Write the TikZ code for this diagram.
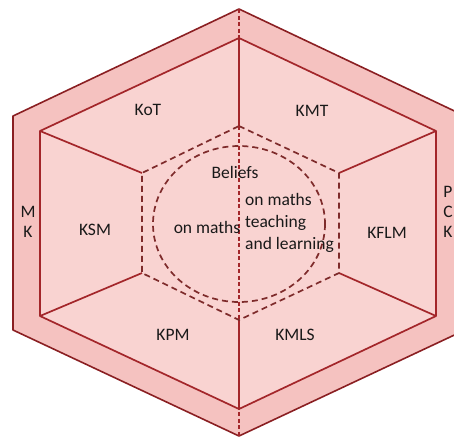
\documentclass[tikz,border=0pt]{standalone}
\usepackage{fontspec}
\setmainfont{Carlito}
\usetikzlibrary{calc}
\definecolor{ringpink}{HTML}{F5C2C0}
\definecolor{facepink}{HTML}{F9D3D1}
\definecolor{edgered}{HTML}{A3262A}
\definecolor{rimred}{HTML}{8A1F22}
\definecolor{dashbrown}{HTML}{7E2B2B}
\begin{document}
\begin{tikzpicture}[x=1pt, y=-1pt,
  edge/.style={draw=edgered, line width=1.7pt, line join=round},
  rim/.style={draw=rimred, line width=1.6pt, line join=round},
  dashedge/.style={draw=dashbrown, line width=1.7pt, dash pattern=on 6pt off 4pt},
  axis/.style={draw=edgered, line width=1.3pt, dash pattern=on 4pt off 2.5pt},
  lab/.style={font=\fontsize{17.5}{20}\selectfont, text=black!90, inner sep=0pt, align=center}]
\useasboundingbox (0,0) rectangle (454,437);
\clip (0,0) rectangle (454,437);
% outer hexagon
\coordinate (OT) at (239,9);
\coordinate (OUR) at (465,116);
\coordinate (OLR) at (465,330);
\coordinate (OB) at (239,436);
\coordinate (OLL) at (13,330);
\coordinate (OUL) at (13,116);
\fill[ringpink] (OT) -- (OUR) -- (OLR) -- (OB) -- (OLL) -- (OUL) -- cycle;
\draw[rim] (OT) -- (OUR) -- (OLR) -- (OB) -- (OLL) -- (OUL) -- cycle;
% inner hexagon
\coordinate (IT) at (239,38);
\coordinate (IUR) at (436,131);
\coordinate (ILR) at (436,316);
\coordinate (IB) at (239,409);
\coordinate (ILL) at (40,316);
\coordinate (IUL) at (40,131);
\fill[facepink] (IT) -- (IUR) -- (ILR) -- (IB) -- (ILL) -- (IUL) -- cycle;
\draw[edge] (IT) -- (IUR) -- (ILR) -- (IB) -- (ILL) -- (IUL) -- cycle;
% beliefs hexagon
\coordinate (BT) at (239,126);
\coordinate (BUR) at (339,173);
\coordinate (BLR) at (339,273);
\coordinate (BB) at (239,320);
\coordinate (BLL) at (142,273);
\coordinate (BUL) at (142,173);
\draw[edge] (IUL) -- (BUL);
\draw[edge] (ILL) -- (BLL);
\draw[edge] (IUR) -- (BUR);
\draw[edge] (ILR) -- (BLR);
\draw[edge] (IT) -- (BT);
\draw[edge] (IB) -- (BB);
\draw[dashedge] (BT) -- (BUR) -- (BLR) -- (BB) -- (BLL) -- (BUL) -- cycle;
\draw[dashedge] (239,224) ellipse[x radius=86, y radius=78];
\draw[axis] (OT) -- (OB);
% labels
\node[lab] (kot) at (148,110) {KoT};
\node[lab] (kmt) at (312,111) {KMT};
\node[lab] (ksm) at (95,230) {KSM};
\node[lab] (kflm) at (387,233) {KFLM};
\node[lab] (kpm) at (173,335) {KPM};
\node[lab] (kmls) at (295,335) {KMLS};
\node[lab] (mk) at (28,222) {M\\K};
\node[lab] (pck) at (448,212) {P\\C\\K};
\node[lab] (beliefs) at (235,172) {Beliefs};
\node[lab] (onmaths) at (207,227) {on maths};
\node[lab, anchor=west, align=left, font=\fontsize{17.5}{22}\selectfont] (teach) at (245,223) {on maths\\teaching\\and learning};
\end{tikzpicture}
\end{document}
